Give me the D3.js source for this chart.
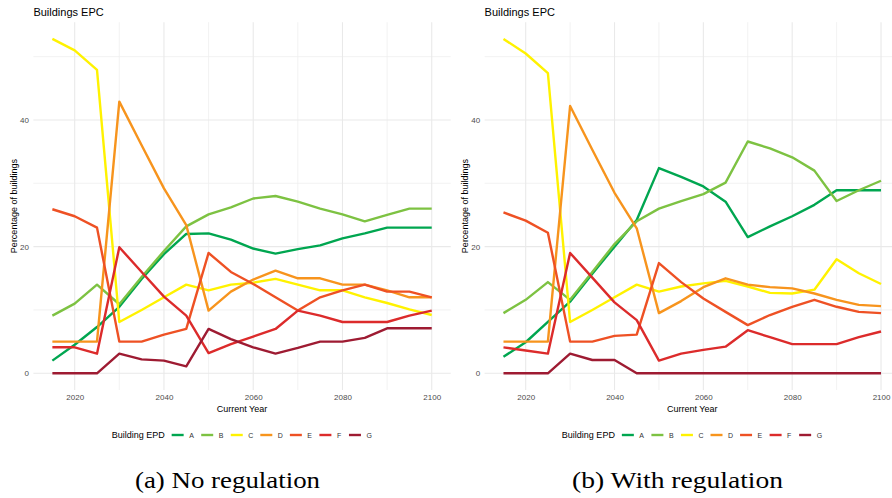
<!DOCTYPE html>
<html>
<head>
<meta charset="utf-8">
<script src="https://cdn.jsdelivr.net/npm/d3@7"></script>
<style>
  html, body { margin: 0; padding: 0; background: #ffffff; }
  svg { display: block; }
  text { font-family: "Liberation Sans", Arial, sans-serif; }
</style>
</head>
<body>
<svg id="chart" width="892" height="498"></svg>
<script>
// Simulation output: share of buildings per energy-performance grade, every 5 years
const years = [2015, 2020, 2025, 2030, 2035, 2040, 2045, 2050, 2055, 2060,
               2065, 2070, 2075, 2080, 2085, 2090, 2095, 2100];
const grades = ["A", "B", "C", "D", "E", "F", "G"];
const gradeColors = ["#00a650", "#7dc242", "#fff200", "#f7941d", "#ee5124", "#dc2b2b", "#9e1b32"];

// Scenario (a): no regulation
const noRegA = [2.0, 4.5, 7.3, 10.5, 14.9, 18.8, 22.0, 22.1, 21.1, 19.7, 18.9, 19.6, 20.2, 21.3, 22.1, 23.0, 23.0, 23.0];
const noRegB = [9.1, 11.0, 14.0, 10.9, 15.2, 19.3, 23.2, 25.1, 26.2, 27.6, 28.0, 27.1, 26.0, 25.1, 24.0, 25.0, 26.0, 26.0];
const noRegC = [52.8, 51.0, 47.9, 8.1, 10.0, 12.0, 14.0, 13.1, 14.0, 14.3, 14.9, 14.0, 13.1, 13.1, 12.0, 11.1, 10.1, 9.2];
const noRegD = [5.0, 5.0, 5.0, 42.9, 36.0, 29.2, 23.4, 9.9, 12.9, 14.8, 16.2, 15.0, 15.0, 14.0, 14.0, 13.1, 12.0, 12.0];
const noRegE = [25.9, 24.8, 23.0, 5.0, 5.0, 6.1, 7.0, 19.0, 16.0, 14.1, 12.0, 9.9, 12.0, 13.1, 14.0, 12.9, 12.9, 12.0];
const noRegF = [4.1, 4.1, 3.1, 19.9, 16.0, 12.1, 9.1, 3.2, 4.6, 5.8, 7.0, 9.9, 9.1, 8.1, 8.1, 8.1, 9.1, 9.9];
const noRegG = [0, 0, 0, 3.1, 2.2, 2.0, 1.1, 7.0, 5.4, 4.1, 3.1, 4.0, 5.0, 5.0, 5.6, 7.1, 7.1, 7.1];

// Scenario (b): with regulation
const regA = [2.6, 4.9, 8.1, 11.3, 15.7, 20.0, 24.2, 32.4, 31.0, 29.5, 27.1, 21.5, 23.2, 24.8, 26.6, 28.9, 28.9, 28.9];
const regB = [9.5, 11.6, 14.4, 11.6, 16.0, 20.4, 24.0, 26.0, 27.2, 28.3, 30.1, 36.6, 35.5, 34.1, 32.0, 27.2, 28.9, 30.4];
const regC = [52.8, 50.5, 47.4, 8.1, 10.0, 12.0, 14.0, 12.9, 13.7, 14.2, 14.6, 13.7, 12.7, 12.6, 13.2, 18.0, 15.8, 14.1];
const regD = [5.0, 5.0, 5.0, 42.2, 35.3, 28.5, 22.9, 9.5, 11.4, 13.6, 15.0, 14.0, 13.6, 13.4, 12.6, 11.6, 10.8, 10.6];
const regE = [25.4, 24.1, 22.2, 5.0, 5.0, 5.9, 6.1, 17.4, 14.4, 11.8, 9.7, 7.6, 9.2, 10.5, 11.6, 10.5, 9.7, 9.5];
const regF = [4.1, 3.6, 3.1, 19.0, 15.1, 11.2, 8.4, 2.0, 3.1, 3.7, 4.2, 6.8, 5.7, 4.6, 4.6, 4.6, 5.7, 6.6];
const regG = [0, 0, 0, 3.1, 2.1, 2.1, 0, 0, 0, 0, 0, 0, 0, 0, 0, 0, 0, 0];

const xMajor = [2020, 2040, 2060, 2080, 2100];
const xMinor = [2030, 2050, 2070, 2090];
const yMajor = [0, 20, 40];
const yMinor = [10, 30, 50];

const titleText = "Buildings EPC";
const xTitle = "Current Year";
const yTitle = "Percentage of buildings";
const legendTitle = "Building EPD";

const panels = [
  { series: [noRegA, noRegB, noRegC, noRegD, noRegE, noRegF, noRegG],
    left: 33.4, right: 450.7, caption: "(a) No regulation", capX: 135, capW: 185 },
  { series: [regA, regB, regC, regD, regE, regF, regG],
    left: 484.6, right: 899.9, caption: "(b) With regulation", capX: 572, capW: 211 }
];

const svg = d3.select("#chart");
svg.append("rect").attr("width", 892).attr("height", 498).attr("fill", "#ffffff");

const plotTop = 22.2, plotBottom = 390;

// shared y domain with the usual 5% padding
const allVals = panels.flatMap(p => p.series.flat());
const yMin = d3.min(allVals), yMax = d3.max(allVals);
const yPad = (yMax - yMin) * 0.05;
const xPad = (d3.max(years) - d3.min(years)) * 0.05;

panels.forEach(p => {
  const g = svg.append("g");
  const x = d3.scaleLinear().domain([d3.min(years) - xPad, d3.max(years) + xPad]).range([p.left, p.right]);
  const y = d3.scaleLinear().domain([yMin - yPad, yMax + yPad]).range([plotBottom, plotTop]);

  // grid
  const grid = g.append("g");
  grid.selectAll(".ymin").data(yMinor).join("line")
    .attr("x1", p.left).attr("x2", p.right)
    .attr("y1", d => y(d)).attr("y2", d => y(d))
    .attr("stroke", "#efefef").attr("stroke-width", 0.8);
  grid.selectAll(".xmin").data(xMinor).join("line")
    .attr("x1", d => x(d)).attr("x2", d => x(d))
    .attr("y1", plotTop).attr("y2", plotBottom)
    .attr("stroke", "#efefef").attr("stroke-width", 0.8);
  grid.selectAll(".ymaj").data(yMajor).join("line")
    .attr("x1", p.left).attr("x2", p.right)
    .attr("y1", d => y(d)).attr("y2", d => y(d))
    .attr("stroke", "#e9e9e9").attr("stroke-width", 1.1);
  grid.selectAll(".xmaj").data(xMajor).join("line")
    .attr("x1", d => x(d)).attr("x2", d => x(d))
    .attr("y1", plotTop).attr("y2", plotBottom)
    .attr("stroke", "#e9e9e9").attr("stroke-width", 1.1);

  // axes (labels only)
  const xAxis = g.append("g").attr("transform", `translate(0,${plotBottom})`)
    .call(d3.axisBottom(x).tickValues(xMajor).tickFormat(d3.format("d")).tickSize(0).tickPadding(4.8));
  const yAxis = g.append("g").attr("transform", `translate(${p.left},0)`)
    .call(d3.axisLeft(y).tickValues(yMajor).tickSize(0).tickPadding(4.4));
  [xAxis, yAxis].forEach(a => {
    a.select(".domain").remove();
    a.selectAll("text").attr("fill", "#4d4d4d").style("font-size", "8px")
      .style("font-family", '"Liberation Sans", Arial, sans-serif');
  });

  // lines
  const line = d3.line().x((d, i) => x(years[i])).y(d => y(d));
  g.append("g").selectAll("path").data(p.series).join("path")
    .attr("d", line)
    .attr("fill", "none")
    .attr("stroke", (d, i) => gradeColors[i])
    .attr("stroke-width", 2.4)
    .attr("stroke-linejoin", "round");

  const cx = (p.left + p.right) / 2;

  // titles
  g.append("text").attr("x", p.left).attr("y", 15.6).text(titleText)
    .style("font-size", "11px").attr("fill", "#000");
  g.append("text").attr("x", cx).attr("y", 412.2).attr("text-anchor", "middle").text(xTitle)
    .style("font-size", "9px").attr("fill", "#000");
  g.append("text").attr("transform", `translate(${p.left - 16.9},${(plotTop + plotBottom) / 2}) rotate(-90)`)
    .attr("text-anchor", "middle").text(yTitle)
    .style("font-size", "9px").attr("fill", "#000");

  // legend
  const lg = g.append("g").attr("transform", `translate(${cx - 130.4},435)`);
  lg.append("text").attr("x", 0).attr("y", 3.2).text(legendTitle)
    .style("font-size", "9px").attr("fill", "#000");
  const items = lg.selectAll(".item").data(grades).join("g")
    .attr("transform", (d, i) => `translate(${60 + i * 29.55},0)`);
  items.append("line").attr("x1", 0).attr("x2", 12).attr("y1", 0).attr("y2", 0)
    .attr("stroke", (d, i) => gradeColors[i]).attr("stroke-width", 2.4);
  items.append("text").attr("x", 17.5).attr("y", 2.5).text(d => d)
    .style("font-size", "7px").attr("fill", "#333");

  // sub-figure caption
  svg.append("text").attr("x", p.capX).attr("y", 488).text(p.caption)
    .attr("textLength", p.capW).attr("lengthAdjust", "spacingAndGlyphs")
    .style("font-family", '"Liberation Serif", "DejaVu Serif", serif')
    .style("font-size", "23px").attr("fill", "#000");
});
</script>
</body>
</html>
